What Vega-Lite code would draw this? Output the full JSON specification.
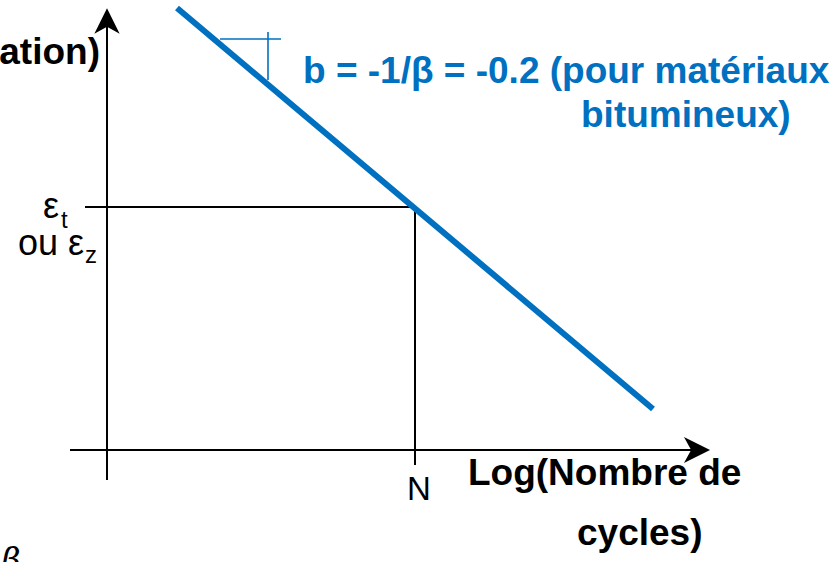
{
  "$schema": "https://vega.github.io/schema/vega-lite/v6.json",
  "width": 833,
  "height": 562,
  "padding": 0,
  "autosize": {"type": "none"},
  "background": "white",
  "config": {"view": {"stroke": null}, "text": {"font": "Liberation Sans"}},
  "datasets": {
    "axes": [
      {"x": 1.07, "y": 0.82, "x2": 1.07, "y2": 5.37},
      {"x": 0.70, "y": 1.12, "x2": 7.0, "y2": 1.12},
      {"x": 0.85, "y": 3.55, "x2": 4.15, "y2": 3.55},
      {"x": 4.15, "y": 3.55, "x2": 4.15, "y2": 0.97}
    ],
    "fatigue": [{"x": 1.77, "y": 5.54, "x2": 6.53, "y2": 1.53}],
    "slope": [
      {"x": 2.2, "y": 5.23, "x2": 2.81, "y2": 5.23},
      {"x": 2.68, "y": 5.3, "x2": 2.68, "y2": 4.82}
    ],
    "arrowUp": [{"x": 1.07, "y": 5.41}],
    "arrowRight": [{"x": 6.97, "y": 1.12}],
    "boldRight": [{"x": 1.0, "y": 4.98, "t": "Log(Déformation)"}],
    "boldLeft": [
      {"x": 4.68, "y": 0.77, "t": "Log(Nombre de"},
      {"x": 5.77, "y": 0.17, "t": "cycles)"}
    ],
    "blueText": [
      {"x": 3.03, "y": 4.79, "t": "b = -1/β = -0.2 (pour matériaux"},
      {"x": 5.81, "y": 4.35, "t": "bitumineux)"}
    ],
    "plain": [
      {"x": 0.43, "y": 3.44, "t": "ε"},
      {"x": 0.18, "y": 3.07, "t": "ou ε"}
    ],
    "subs": [
      {"x": 0.61, "y": 3.34, "t": "t"},
      {"x": 0.85, "y": 2.99, "t": "z"}
    ],
    "nLabel": [{"x": 4.19, "y": 0.62, "t": "N"}],
    "greek": [{"x": 0.01, "y": -0.1, "t": "β"}]
  },
  "layer": [
    {
      "data": {"name": "axes"},
      "mark": {"type": "rule", "color": "black", "strokeWidth": 2},
      "encoding": {
        "x": {"field": "x", "type": "quantitative", "scale": {"domain": [0, 8.33], "nice": false, "zero": false}, "axis": null},
        "y": {"field": "y", "type": "quantitative", "scale": {"domain": [0, 5.62], "nice": false, "zero": false}, "axis": null},
        "x2": {"field": "x2"},
        "y2": {"field": "y2"}
      }
    },
    {
      "data": {"name": "slope"},
      "mark": {"type": "rule", "color": "#0070C0", "strokeWidth": 1.6},
      "encoding": {
        "x": {"field": "x", "type": "quantitative"},
        "y": {"field": "y", "type": "quantitative"},
        "x2": {"field": "x2"},
        "y2": {"field": "y2"}
      }
    },
    {
      "data": {"name": "fatigue"},
      "mark": {"type": "rule", "color": "#0070C0", "strokeWidth": 6, "strokeCap": "butt"},
      "encoding": {
        "x": {"field": "x", "type": "quantitative"},
        "y": {"field": "y", "type": "quantitative"},
        "x2": {"field": "x2"},
        "y2": {"field": "y2"}
      }
    },
    {
      "data": {"name": "arrowUp"},
      "mark": {"type": "point", "filled": true, "color": "black", "opacity": 1, "size": 640, "shape": "M0,-1 L1,1 L0,0.45 L-1,1 Z"},
      "encoding": {
        "x": {"field": "x", "type": "quantitative"},
        "y": {"field": "y", "type": "quantitative"}
      }
    },
    {
      "data": {"name": "arrowRight"},
      "mark": {"type": "point", "filled": true, "color": "black", "opacity": 1, "size": 680, "shape": "M1,0 L-1,1 L-0.45,0 L-1,-1 Z"},
      "encoding": {
        "x": {"field": "x", "type": "quantitative"},
        "y": {"field": "y", "type": "quantitative"}
      }
    },
    {
      "data": {"name": "boldRight"},
      "mark": {"type": "text", "fontWeight": "bold", "fontSize": 37, "align": "right", "baseline": "alphabetic", "color": "black"},
      "encoding": {
        "x": {"field": "x", "type": "quantitative"},
        "y": {"field": "y", "type": "quantitative"},
        "text": {"field": "t"}
      }
    },
    {
      "data": {"name": "boldLeft"},
      "mark": {"type": "text", "fontWeight": "bold", "fontSize": 37, "align": "left", "baseline": "alphabetic", "color": "black"},
      "encoding": {
        "x": {"field": "x", "type": "quantitative"},
        "y": {"field": "y", "type": "quantitative"},
        "text": {"field": "t"}
      }
    },
    {
      "data": {"name": "blueText"},
      "mark": {"type": "text", "fontWeight": "bold", "fontSize": 37, "align": "left", "baseline": "alphabetic", "color": "#0070C0"},
      "encoding": {
        "x": {"field": "x", "type": "quantitative"},
        "y": {"field": "y", "type": "quantitative"},
        "text": {"field": "t"}
      }
    },
    {
      "data": {"name": "plain"},
      "mark": {"type": "text", "fontSize": 36, "align": "left", "baseline": "alphabetic", "color": "black"},
      "encoding": {
        "x": {"field": "x", "type": "quantitative"},
        "y": {"field": "y", "type": "quantitative"},
        "text": {"field": "t"}
      }
    },
    {
      "data": {"name": "subs"},
      "mark": {"type": "text", "fontSize": 24, "align": "left", "baseline": "alphabetic", "color": "black"},
      "encoding": {
        "x": {"field": "x", "type": "quantitative"},
        "y": {"field": "y", "type": "quantitative"},
        "text": {"field": "t"}
      }
    },
    {
      "data": {"name": "nLabel"},
      "mark": {"type": "text", "fontSize": 33, "align": "center", "baseline": "alphabetic", "color": "black"},
      "encoding": {
        "x": {"field": "x", "type": "quantitative"},
        "y": {"field": "y", "type": "quantitative"},
        "text": {"field": "t"}
      }
    },
    {
      "data": {"name": "greek"},
      "mark": {"type": "text", "font": "DejaVu Serif", "fontStyle": "italic", "fontSize": 34, "align": "left", "baseline": "alphabetic", "color": "black"},
      "encoding": {
        "x": {"field": "x", "type": "quantitative"},
        "y": {"field": "y", "type": "quantitative"},
        "text": {"field": "t"}
      }
    }
  ]
}
